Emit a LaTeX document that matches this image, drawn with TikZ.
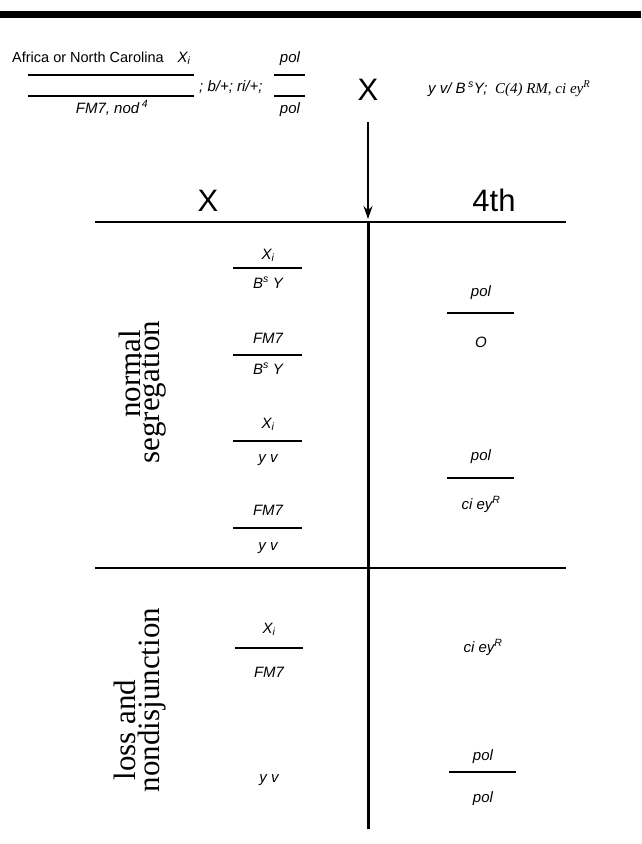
\documentclass[tikz,border=0pt]{standalone}
\usepackage{fontspec}
\setmainfont{Liberation Sans}
\newfontfamily\serifface{Liberation Serif}
\usetikzlibrary{arrows.meta}
\begin{document}
\begin{tikzpicture}[x=1pt,y=-1pt,
  gene/.style={anchor=base, inner sep=0pt, font=\fontsize{15}{17}\selectfont\itshape},
  plain/.style={anchor=base, inner sep=0pt, font=\fontsize{14.5}{17}\selectfont},
  big/.style={anchor=base, inner sep=0pt, font=\fontsize{31}{33}\selectfont},
  side/.style={rotate=90, anchor=base, inner sep=0pt, font=\serifface\fontsize{31}{31}\selectfont},
  mainrule/.style={line width=2.4pt},
  fracrule/.style={line width=1.3pt}]
\useasboundingbox (0,0) rectangle (641,844);
% top bar
\fill (0,11) rectangle (641,18);
% header genotype
\node[plain, anchor=base west] (afr) at (12,62) {Africa or North Carolina};
\node[gene] (xi0) at (184,62) {X\textsubscript{i}};
\node[gene] (pol0) at (290,62) {pol};
\draw[fracrule] (28,75) -- (194,75);
\draw[fracrule] (28,96) -- (194,96);
\draw[fracrule] (274,75) -- (305,75);
\draw[fracrule] (274,96) -- (305,96);
\node[gene, anchor=base west] (bri) at (199,91) {; b/+; ri/+;};
\node[gene] (fm0) at (112,113) {FM7, nod\,\textsuperscript{4}};
\node[gene] (pol1) at (290,113) {pol};
% cross
\node[big] (cross) at (368,100) {X};
\node[gene, anchor=base west] (male) at (428,93) {y v/ B\,\textsuperscript{s}Y;\enspace{\serifface\itshape C(4) RM, ci ey\textsuperscript{R}}};
\coordinate (tip) at (368,219);
\draw[line width=2pt, -{Stealth[length=13pt,width=9pt]}] (368,122) -- (tip);
% column headers
\node[big] (hx) at (208,211) {X};
\node[big] (h4) at (494,211) {4th};
% grid
\draw[mainrule] (95,222) -- (566,222);
\draw[mainrule] (95,568) -- (566,568);
\draw[line width=3pt] (368,222) -- (368,829);
% side labels
\node[side] (ns1) at (140,374) {normal};
\node[side] (ns2) at (159,392) {segregation};
\node[side] (ln1) at (135,730) {loss and};
\node[side] (ln2) at (159,700) {nondisjunction};
% X column, normal segregation
\node[gene] (a1) at (268,259) {X\textsubscript{i}};
\draw[fracrule] (233,268) -- (302,268);
\node[gene] (a2) at (268,288) {B\textsuperscript{s} Y};
\node[gene] (b1) at (268,343) {FM7};
\draw[fracrule] (233,355) -- (302,355);
\node[gene] (b2) at (268,374) {B\textsuperscript{s} Y};
\node[gene] (c1) at (268,428) {X\textsubscript{i}};
\draw[fracrule] (233,441) -- (302,441);
\node[gene] (c2) at (268,462) {y v};
\node[gene] (d1) at (268,515) {FM7};
\draw[fracrule] (233,528) -- (302,528);
\node[gene] (d2) at (268,550) {y v};
% 4th column, normal segregation
\node[gene] (e1) at (481,296) {pol};
\draw[fracrule] (447,313) -- (514,313);
\node[gene] (e2) at (481,347) {O};
\node[gene] (f1) at (481,460) {pol};
\draw[fracrule] (447,478) -- (514,478);
\node[gene] (f2) at (481,509) {ci ey\textsuperscript{R}};
% loss and nondisjunction
\node[gene] (g1) at (269,633) {X\textsubscript{i}};
\draw[fracrule] (235,648) -- (303,648);
\node[gene] (g2) at (269,677) {FM7};
\node[gene] (h1) at (483,652) {ci ey\textsuperscript{R}};
\node[gene] (i1) at (269,782) {y v};
\node[gene] (j1) at (483,760) {pol};
\draw[fracrule] (449,772) -- (516,772);
\node[gene] (j2) at (483,802) {pol};
\end{tikzpicture}
\end{document}
